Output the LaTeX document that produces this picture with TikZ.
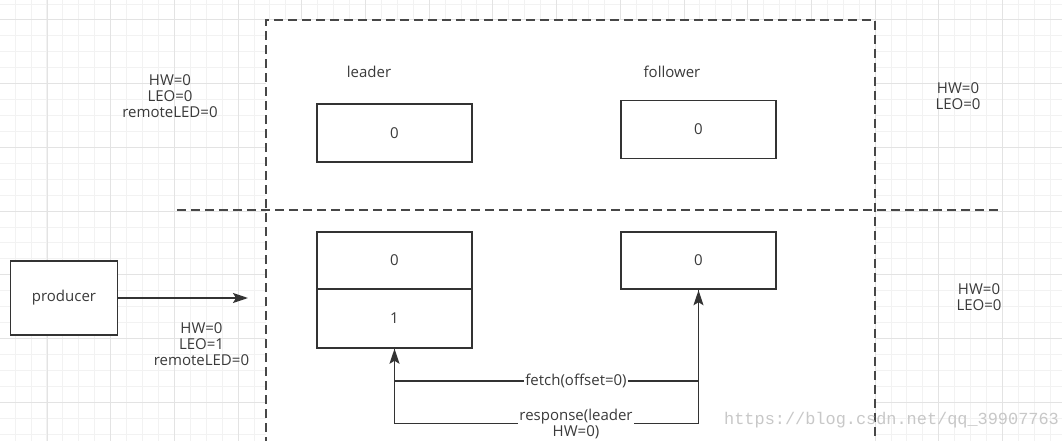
\documentclass[tikz,border=0pt]{standalone}
\usepackage{fontspec}
\newfontfamily\lblfont{Open Sans}
\newfontfamily\wmfont{Liberation Mono}
\usetikzlibrary{arrows.meta}
\definecolor{txt}{HTML}{3A3A3A}
\definecolor{ink}{HTML}{333333}
\definecolor{dashcol}{HTML}{474747}
\definecolor{gridminor}{HTML}{F2F2F2}
\definecolor{gridmajor}{HTML}{E3E3E3}
\definecolor{wmcol}{HTML}{C8C8C8}
\tikzset{
  lbl/.style={font=\lblfont\fontsize{15}{16.3}\selectfont, text=txt, inner sep=0pt, align=center},
  cell/.style={lbl, draw=ink, line width=1.8pt, fill=white, minimum width=155pt, minimum height=58pt},
  prodbox/.style={lbl, draw=ink, line width=1.8pt, fill=white, minimum width=107pt, minimum height=74pt},
  conn/.style={draw=ink, line width=1.8pt, -{Stealth[length=15pt,width=10pt,inset=3pt]}},
  plainline/.style={draw=ink, line width=1.8pt},
  dashline/.style={draw=dashcol, line width=2.2pt, dash pattern=on 9pt off 5pt},
  minorline/.style={draw=gridminor, line width=1pt},
  majorline/.style={draw=gridmajor, line width=1pt},
  onwire/.style={lbl, fill=white, inner xsep=1pt, inner ysep=0pt},
  wm/.style={font=\wmfont\fontsize{16.9}{18}\selectfont, text=wmcol, inner sep=0pt}
}
\begin{document}
\begin{tikzpicture}[x=1pt,y=-1pt]
\useasboundingbox (0,0) rectangle (1062,441);
\fill[white] (0,0) rectangle (1062,441);
% grid
\foreach \i in {0,...,66} {
  \pgfmathsetmacro\xx{15.14+\i*15.925}
  \draw[minorline] (\xx,0) -- (\xx,441);
}
\foreach \j in {0,...,27} {
  \pgfmathsetmacro\yy{4.07+\j*15.925}
  \draw[minorline] (0,\yy) -- (1062,\yy);
}
\foreach \i in {0,...,16} {
  \pgfmathsetmacro\xx{47+\i*63.7}
  \draw[majorline] (\xx,0) -- (\xx,441);
}
\foreach \j in {0,...,6} {
  \pgfmathsetmacro\yy{20+\j*63.7}
  \draw[majorline] (0,\yy) -- (1062,\yy);
}
% broker area
\fill[white] (266,20) rectangle (875,446);
\draw[dashline] (266,446) -- (266,20) -- (875,20) -- (875,446);
\draw[dashline] (177,210) -- (1002,210);

% labels
\node[lbl] (lname) at (369,72) {leader};
\node[lbl] (fname) at (672,72) {follower};
\node[lbl] (lstate1) at (170,96) {HW=0\\LEO=0\\remoteLED=0};
\node[lbl] (fstate1) at (958,96) {HW=0\\LEO=0};
\node[lbl] (lstate2) at (201.5,344) {HW=0\\LEO=1\\remoteLED=0};
\node[lbl] (fstate2) at (979,297) {HW=0\\LEO=0};

% logs
\node[cell] (ltop) at (394.5,133) {0};
\node[cell] (ftop) at (698.5,129.5) {0};
\node[cell, minimum height=57.5pt] (lb0) at (394.5,260.6) {0};
\node[cell, minimum height=58.5pt] (lb1) at (394.5,318.6) {1};
\node[cell, minimum height=57.5pt] (fb) at (698.5,260.6) {0};

% producer
\node[prodbox] (prod) at (64,298) {producer};
\coordinate (pend) at (248,298);
\draw[conn] (prod.east) -- (pend);

% fetch / response
\coordinate (ffj) at (698.5,381);
\coordinate (lfj) at (394.5,381);
\coordinate (lrj) at (394.5,423.5);
\coordinate (frj) at (698.5,423.5);
\draw[conn] (fb.south) -- (ffj) -- (lfj) -- (lb1.south);
\draw[conn] (lb1.south) -- (lrj) -- (frj) -- (fb.south);
\node[onwire] (fetchlbl) at (576,381) {fetch(offset=0)};
\node[onwire] (resplbl) at (576,424) {response(leader\\HW=0)};

% watermark
\node[wm, anchor=west] (wmark) at (724,420) {https://blog.csdn.net/qq\_39907763};
\end{tikzpicture}
\end{document}
